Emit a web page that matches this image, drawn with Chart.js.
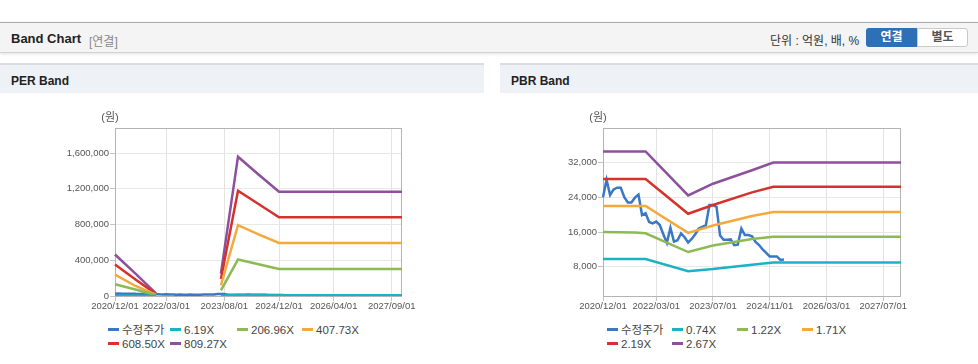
<!DOCTYPE html>
<html lang="ko">
<head>
<meta charset="utf-8">
<script src="https://cdn.jsdelivr.net/npm/chart.js@4.4.1/dist/chart.umd.min.js"></script>
<style>
  body { margin: 0; width: 978px; height: 364px; position: relative; overflow: hidden; background: #fff;
         font-family: "Liberation Sans", Arial, "Noto Sans CJK KR", sans-serif; }
  .bar { position: absolute; left: 0; top: 22px; width: 978px; height: 29px; background: #f4f4f4;
         border-top: 1px solid #a9a9a9; border-bottom: 1px solid #d2d2d2; box-shadow: 0 1px 3px rgba(0,0,0,.12); }
  .bar .title { position: absolute; left: 11px; top: 8px; font-size: 13px; font-weight: bold; color: #222; }
  .bar .sub { position: absolute; left: 89px; top: 9px; font-size: 12px; color: #888; }
  .bar .unit { position: absolute; left: 770px; top: 8px; font-size: 12px; color: #333; }
  .btn { position: absolute; top: 5px; width: 51px; height: 19px; line-height: 19px; text-align: center;
         font-size: 12px; font-weight: bold; box-sizing: border-box; }
  .btn.on { left: 866px; background: #2f6fb6; color: #fff; border-radius: 3px 0 0 3px; }
  .btn.off { left: 917px; background: #fff; color: #555; border: 1px solid #c9c9c9; border-radius: 0 3px 3px 0; line-height: 17px; }
  .ph { position: absolute; top: 63px; height: 28px; line-height: 32px; border-top: 2px solid #dcdde0;
        background: #eef1f6; font-size: 12px; font-weight: bold; color: #222; padding-left: 11px; box-sizing: content-box; }
  .box { position: absolute; top: 93px; height: 225px; }
  .legend { position: absolute; top: 324px; display: grid; font-size: 11.5px; color: #444; line-height: 13.5px; }
  .legend div { white-space: nowrap; }
  .legend i { display: inline-block; width: 11px; height: 3px; margin-right: 3px; vertical-align: middle; position: relative; top: -1px; }
</style>
</head>
<body>
<div class="bar">
  <span class="title">Band Chart</span><span class="sub">[연결]</span>
  <span class="unit">단위 : 억원, 배, %</span>
  <span class="btn on">연결</span><span class="btn off">별도</span>
</div>
<div class="ph" style="left:0; width:473px;">PER Band</div>
<div class="ph" style="left:500px; width:467px;">PBR Band</div>
<div class="box" style="left:0; width:484px;"><canvas id="perChart" width="484" height="225"></canvas></div>
<div class="box" style="left:500px; width:478px;"><canvas id="pbrChart" width="478" height="225"></canvas></div>
<div class="legend" id="perLegend" style="left:108px; grid-template-columns: 62px 67px 65px 65px;"></div>
<div class="legend" id="pbrLegend" style="left:607px; grid-template-columns: 65px 65px 65px 65px;"></div>

<script>
// months (x categories)
const months = [
  '2020/12/01',
  '2021/01/01','2021/02/01','2021/03/01','2021/04/01','2021/05/01','2021/06/01','2021/07/01','2021/08/01','2021/09/01','2021/10/01','2021/11/01','2021/12/01',
  '2022/01/01','2022/02/01','2022/03/01','2022/04/01','2022/05/01','2022/06/01','2022/07/01','2022/08/01','2022/09/01','2022/10/01','2022/11/01','2022/12/01',
  '2023/01/01','2023/02/01','2023/03/01','2023/04/01','2023/05/01','2023/06/01','2023/07/01','2023/08/01','2023/09/01','2023/10/01','2023/11/01','2023/12/01',
  '2024/01/01','2024/02/01','2024/03/01','2024/04/01','2024/05/01','2024/06/01','2024/07/01','2024/08/01','2024/09/01','2024/10/01','2024/11/01','2024/12/01',
  '2025/01/01','2025/02/01','2025/03/01','2025/04/01','2025/05/01','2025/06/01','2025/07/01','2025/08/01','2025/09/01','2025/10/01','2025/11/01','2025/12/01',
  '2026/01/01','2026/02/01','2026/03/01','2026/04/01','2026/05/01','2026/06/01','2026/07/01','2026/08/01','2026/09/01','2026/10/01','2026/11/01','2026/12/01',
  '2027/01/01','2027/02/01','2027/03/01','2027/04/01','2027/05/01','2027/06/01','2027/07/01','2027/08/01','2027/09/01','2027/10/01','2027/11/01','2027/12/01'
];
const perTicks = ['2020/12/01', '2022/03/01', '2023/08/01', '2024/12/01', '2026/04/01', '2027/09/01'];
const pbrTicks = ['2020/12/01', '2022/03/01', '2023/07/01', '2024/11/01', '2026/03/01', '2027/07/01'];
const perYTicks = [0, 400000, 800000, 1200000, 1600000];
const pbrYTicks = [8000, 16000, 24000, 32000];

// 수정주가 (monthly from 2020/12)
const price = [
  24000, 28000, 24500, 25800, 26200, 26200, 24000, 22800, 22800, 23900,
  24600, 19900, 20300, 18300, 18000, 18400, 17600, 15500, 13500, 17000,
  13800, 14100, 15700, 14800, 13600, 14400, 15500, 16800, 17200, 17600,
  22200, 22200, 21800, 15200, 14200, 14200, 14300, 13000, 13100, 16800,
  15300, 15300, 15000, 13700, 13000, 12000, 11200, 10400, 10400, 10400,
  9600, 9700
];

// PER band lines: [month, value], null = no band
const per619 = [['2020/12/01', 3600], ['2021/06/01', 2000], ['2021/12/01', 300], ['2022/01/01', null],
  ['2023/07/01', 1900], ['2023/12/01', 11900], ['2024/06/01', 10400], ['2024/12/01', 8900], ['2027/12/01', 8900]];
const per20696 = [['2020/12/01', 131000], ['2021/06/01', 72000], ['2021/12/01', 8000], ['2022/01/01', null],
  ['2023/07/01', 62000], ['2023/12/01', 408000], ['2024/06/01', 355000], ['2024/12/01', 303000], ['2027/12/01', 303000]];
const per40773 = [['2020/12/01', 240000], ['2021/06/01', 112000], ['2021/12/01', 15000], ['2022/01/01', null],
  ['2023/07/01', 120000], ['2023/12/01', 793000], ['2024/06/01', 690000], ['2024/12/01', 594000], ['2027/12/01', 594000]];
const per60850 = [['2020/12/01', 352000], ['2021/06/01', 184000], ['2021/12/01', 22000], ['2022/01/01', null],
  ['2023/07/01', 190000], ['2023/12/01', 1178000], ['2024/06/01', 1030000], ['2024/12/01', 882000], ['2027/12/01', 882000]];
const per80927 = [['2020/12/01', 464000], ['2021/06/01', 250000], ['2021/12/01', 30000], ['2022/01/01', null],
  ['2023/07/01', 250000], ['2023/12/01', 1559000], ['2024/06/01', 1360000], ['2024/12/01', 1166000], ['2027/12/01', 1166000]];

// PBR band lines
const pbr074 = [['2020/12/01', 9800], ['2021/12/01', 9800], ['2022/12/01', 7000], ['2023/07/01', 7500],
  ['2024/06/01', 8500], ['2024/12/01', 9000], ['2027/12/01', 9000]];
const pbr122 = [['2020/12/01', 16000], ['2021/09/01', 15900], ['2021/12/01', 15700], ['2022/12/01', 11400], ['2023/07/01', 12900],
  ['2024/06/01', 14400], ['2024/12/01', 14900], ['2027/12/01', 14900]];
const pbr171 = [['2020/12/01', 22000], ['2021/12/01', 22000], ['2022/12/01', 15800], ['2023/07/01', 17500],
  ['2024/06/01', 19700], ['2024/12/01', 20600], ['2027/12/01', 20600]];
const pbr219 = [['2020/12/01', 28200], ['2021/12/01', 28200], ['2022/12/01', 20200], ['2023/07/01', 22200],
  ['2024/06/01', 25100], ['2024/12/01', 26400], ['2027/12/01', 26400]];
const pbr267 = [['2020/12/01', 34500], ['2021/12/01', 34500], ['2022/12/01', 24400], ['2023/07/01', 27100],
  ['2024/06/01', 30200], ['2024/12/01', 31950], ['2027/12/01', 31950]];

const colors = ['#3a78c6', '#1cb2c6', '#8dba52', '#f3a93b', '#d4322b', '#8e4f9d'];
const tickFont = { family: '"Liberation Sans", Arial, sans-serif', size: 9.5 };

const pts = arr => arr.map(p => ({ x: p[0], y: p[1] }));

function makeSets(labels, bands) {
  const sets = [{ label: labels[0], data: price, borderColor: colors[0], backgroundColor: colors[0], borderWidth: 2.5, order: 1 }];
  bands.forEach((b, i) => sets.push({
    label: labels[i + 1], data: pts(b), borderColor: colors[i + 1], backgroundColor: colors[i + 1], borderWidth: 2.5, order: 0
  }));
  return sets;
}

// plot frame and (원) label
const frame = {
  id: 'frame',
  beforeDatasetsDraw(chart) {
    const { ctx, chartArea: a } = chart;
    ctx.save();
    ctx.strokeStyle = '#b4b4b4';
    ctx.lineWidth = 1;
    ctx.strokeRect(Math.round(a.left) + 0.5, Math.round(a.top) + 0.5, Math.round(a.width) - 1, Math.round(a.height));
    ctx.fillStyle = '#555';
    ctx.font = '11px "Liberation Sans", Arial, "Noto Sans CJK KR"';
    ctx.textAlign = 'center';
    ctx.textBaseline = 'middle';
    ctx.fillText('(원)', a.left - 5, a.top - 10);
    ctx.restore();
  }
};

function options(ticks, yMin, yMax, yTicks, yWidth, padRight) {
  const show = i => ticks.includes(months[i]);
  return {
    responsive: false,
    animation: false,
    layout: { padding: { top: 35, right: padRight, left: 0, bottom: 0 } },
    elements: { point: { radius: 0 }, line: { tension: 0 } },
    plugins: { legend: { display: false }, tooltip: { enabled: false } },
    scales: {
      x: {
        type: 'category',
        offset: false,
        border: { display: false },
        grid: {
          color: c => show(c.index) ? '#e3e3e3' : 'transparent',
          tickColor: c => show(c.index) ? '#c4c4c4' : 'transparent',
          tickLength: 5
        },
        ticks: {
          autoSkip: false, maxRotation: 0, padding: 0, color: '#555', font: tickFont,
          callback(v, i) { return show(i) ? months[i] : ''; }
        },
        afterFit(s) { s.height = 22; }
      },
      y: {
        min: yMin, max: yMax,
        border: { display: false },
        grid: { color: '#e8e8e8', tickColor: '#c4c4c4', tickLength: 5 },
        ticks: { padding: 1, color: '#555', font: tickFont, callback: v => v.toLocaleString('en-US') },
        afterBuildTicks(s) { s.ticks = yTicks.map(v => ({ value: v })); },
        afterFit(s) { s.width = yWidth; }
      }
    }
  };
}

function buildLegend(chart, id) {
  const el = document.getElementById(id);
  chart.data.datasets.forEach(ds => {
    const item = document.createElement('div');
    item.innerHTML = '<i style="background:' + ds.borderColor + '"></i>' + ds.label;
    el.appendChild(item);
  });
}

const perChart = new Chart(document.getElementById('perChart'), {
  type: 'line',
  data: {
    labels: months,
    datasets: makeSets(['수정주가', '6.19X', '206.96X', '407.73X', '608.50X', '809.27X'],
      [per619, per20696, per40773, per60850, per80927])
  },
  options: options(perTicks, 0, 1880000, perYTicks, 115, 82),
  plugins: [frame]
});
buildLegend(perChart, 'perLegend');

const pbrChart = new Chart(document.getElementById('pbrChart'), {
  type: 'line',
  data: {
    labels: months,
    datasets: makeSets(['수정주가', '0.74X', '1.22X', '1.71X', '2.19X', '2.67X'],
      [pbr074, pbr122, pbr171, pbr219, pbr267])
  },
  options: options(pbrTicks, 1300, 39900, pbrYTicks, 103, 77),
  plugins: [frame]
});
buildLegend(pbrChart, 'pbrLegend');
</script>
</body>
</html>
